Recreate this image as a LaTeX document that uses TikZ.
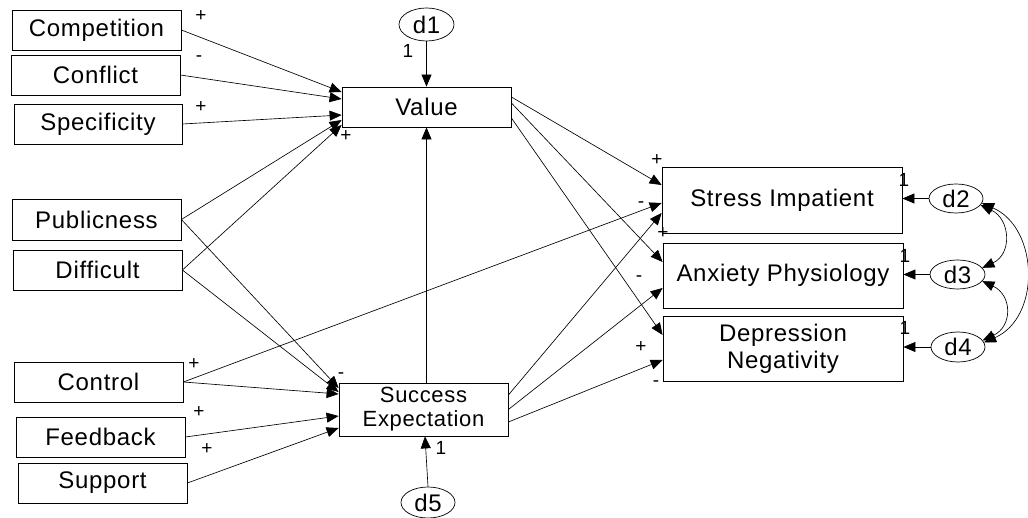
\documentclass[tikz,border=0pt]{standalone}
\usepackage{fontspec}
\setmainfont{Liberation Sans}[LetterSpace=3]
\usetikzlibrary{arrows.meta,shapes.geometric}

\newcommand\boxfont{\fontsize{24}{27}\selectfont}
\newcommand\signfont{\fontsize{19}{19}\selectfont}
\newcommand\onefont{\fontsize{19}{19}\selectfont}

\tikzset{
  box/.style={draw, rectangle, inner sep=0pt, line width=0.8pt, font=\boxfont, align=center},
  err/.style={draw, ellipse, inner sep=0pt, line width=0.7pt, font=\boxfont},
  eff/.style={-{Triangle[length=12pt,width=10pt]}, line width=0.65pt},
  cov/.style={{Triangle[length=12pt,width=10pt]}-{Triangle[length=12pt,width=10pt]}, line width=0.65pt},
  sgn/.style={inner sep=0pt, font=\signfont},
  one/.style={inner sep=0pt, font=\onefont},
}

\begin{document}
\begin{tikzpicture}[x=1pt,y=-1pt]
\useasboundingbox (0,0) rectangle (1028,518);

% exogenous task characteristics
\node[box, minimum width=169pt, minimum height=40pt] (comp) at (96.5,30)  {Competition};
\node[box, minimum width=169pt, minimum height=40pt] (conf) at (95.5,75)  {Conflict};
\node[box, minimum width=168pt, minimum height=40pt] (spec) at (98,124)   {Specificity};
\node[box, minimum width=169pt, minimum height=41pt] (pub)  at (96.5,219.5) {Publicness};
\node[box, minimum width=169pt, minimum height=40pt] (diff) at (97.5,270) {Difficult};
\node[box, minimum width=169pt, minimum height=40pt] (ctrl) at (98.5,382) {Control};
\node[box, minimum width=169pt, minimum height=40pt] (fb)   at (100.5,437) {Feedback};
\node[box, minimum width=169pt, minimum height=40pt] (sup)  at (102.5,483) {Support};

% mediators
\node[box, minimum width=169pt, minimum height=40pt] (val) at (426.5,107) {Value};
\node[box, minimum width=169pt, minimum height=53pt, font=\fontsize{22}{24}\selectfont] (se) at (423.5,409.5) {Success\\Expectation};

% outcomes
\node[box, minimum width=240pt, minimum height=66pt] (si) at (782,200)   {Stress Impatient};
\node[box, minimum width=240pt, minimum height=65pt] (ap) at (783,275.5) {Anxiety Physiology};
\node[box, minimum width=240pt, minimum height=65pt] (dn) at (783,348.5) {Depression\\Negativity};

% disturbances
\node[err, minimum width=55pt, minimum height=33pt] (d1) at (426.5,24.5) {d1};
\node[err, minimum width=54pt, minimum height=31pt] (d5) at (428,502.5) {d5};
\node[err, minimum width=54pt, minimum height=29pt] (d2) at (956,198.5) {d2};
\node[err, minimum width=55pt, minimum height=29pt] (d3) at (957.5,274.5) {d3};
\node[err, minimum width=54pt, minimum height=30pt] (d4) at (958,347) {d4};

% paths into Value
\draw[eff] (comp.east) -- ([yshift=15pt]val.west);
\draw[eff] (conf.east) -- ([yshift=8pt]val.west);
\draw[eff] (spec.east) -- ([yshift=-8pt]val.west);
\draw[eff] (pub.east)  -- ([yshift=-13pt]val.west);
\draw[eff] (diff.east) -- ([yshift=-18pt]val.west);

% paths into Success Expectation
\draw[eff] (pub.east)  -- ([yshift=21.5pt]se.west);
\draw[eff] (diff.east) -- ([yshift=17.5pt]se.west);
\draw[eff] (ctrl.east) -- ([yshift=15.5pt]se.west);
\draw[eff] (fb.east)   -- ([yshift=-6.5pt]se.west);
\draw[eff] (sup.east)  -- ([yshift=-18.5pt]se.west);

% Control to Stress Impatient
\draw[eff] (ctrl.east) -- ([yshift=-3pt]si.west);

% Success Expectation to Value
\draw[eff] (se.north -| val.south) -- (val.south);

% Value to outcomes
\draw[eff] ([yshift=10pt]val.east)  -- ([yshift=15pt]si.west);
\draw[eff] ([yshift=4pt]val.east)   -- ([yshift=13.5pt]ap.west);
\draw[eff] ([yshift=-11pt]val.east) -- ([yshift=13.5pt]dn.west);

% Success Expectation to outcomes
\draw[eff] ([yshift=14.5pt]se.east)  -- ([yshift=-13pt]si.west);
\draw[eff] (se.east)                 -- ([yshift=-12.5pt]ap.west);
\draw[eff] ([yshift=-12.5pt]se.east) -- ([yshift=-11.5pt]dn.west);

% disturbance paths
\draw[eff] (d1.south) -- (d1.south |- val.north);
\draw[eff] (d5.north) -- ([xshift=1.5pt]se.south);
\draw[eff] (d2.west) -- (d2.west -| si.east);
\draw[eff] (d3.west) -- (d3.west -| ap.east);
\draw[eff] (d4.west) -- (d4.west -| dn.east);

% covariances among disturbances
\draw[cov] (d2.-15) .. controls +(30,14) and +(30,-14) .. (d3.15);
\draw[cov] (d3.-15) .. controls +(30,14) and +(30,-14) .. (d4.15);
\draw[cov] (d2.-10) .. controls +(57,25) and +(57,-25) .. (d4.10);

% fixed loadings
\node[one] (w1) at (408,51)  {1};
\node[one] (w5) at (441,448) {1};
\node[one] (w2) at (904,180) {1};
\node[one] (w3) at (905,256) {1};
\node[one] (w4) at (905,328) {1};

% signs of effects
\node[sgn] (s1)  at (201,16)  {+};
\node[sgn] (s2)  at (199,59)  {-};
\node[sgn] (s3)  at (201,107) {+};
\node[sgn] (s4)  at (346,136) {+};
\node[sgn] (s5)  at (194,364) {+};
\node[sgn] (s6)  at (199,412) {+};
\node[sgn] (s7)  at (207,449) {+};
\node[sgn] (s8)  at (341,376) {-};
\node[sgn] (s9)  at (657,160) {+};
\node[sgn] (s10) at (641,205) {-};
\node[sgn] (s11) at (663,233) {+};
\node[sgn] (s12) at (639,279) {-};
\node[sgn] (s13) at (641,347) {+};
\node[sgn] (s14) at (656,384) {-};
\end{tikzpicture}
\end{document}
